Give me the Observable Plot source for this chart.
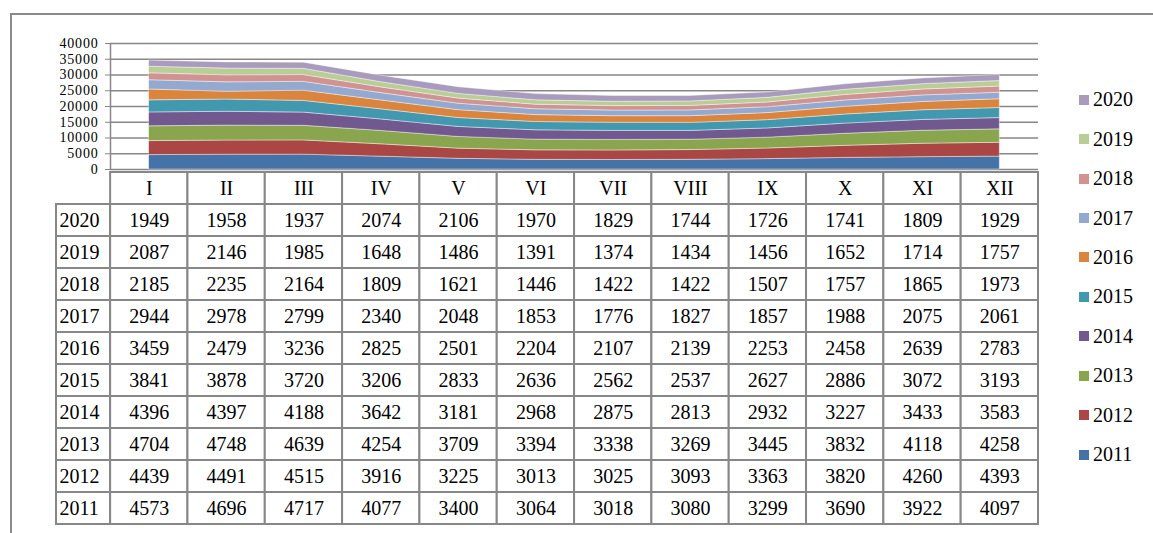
<!DOCTYPE html>
<html>
<head>
<meta charset="utf-8">
<script src="https://cdn.jsdelivr.net/npm/d3@7"></script>
<script src="https://cdn.jsdelivr.net/npm/@observablehq/plot@0.6"></script>
<style>
  html, body { margin: 0; padding: 0; background: #fff; }
  #wrap { position: relative; width: 1153px; height: 533px; overflow: hidden; background: #fff; font-family: "Liberation Serif", "Times New Roman", serif; }
  #frame { position: absolute; left: 10px; top: 13px; width: 1200px; height: 600px; border-top: 2px solid #8a8a8a; border-left: 2px solid #8a8a8a; }
  #area, #table { position: absolute; left: 0; }
  #area { top: 0; }
  #table { top: 167px; }
  #legend { position: absolute; left: 1079px; top: 80px; display: flex; flex-direction: column; }
  .item { height: 39.45px; display: flex; align-items: center; font-size: 20px; color: #000; }
  .sw { width: 10px; height: 10px; margin-right: 4px; }
  #area svg g[aria-label="y-axis tick label"] text { letter-spacing: 0.8px; }
</style>
</head>
<body>
<div id="wrap">
  <div id="frame"></div>
  <div id="area"></div>
  <div id="table"></div>
  <div id="legend"></div>
</div>
<script>
const months = ["I","II","III","IV","V","VI","VII","VIII","IX","X","XI","XII"];
const years = ["2011","2012","2013","2014","2015","2016","2017","2018","2019","2020"];
const colors = ["#4572A7","#AA4643","#89A54E","#71588F","#4198AF","#DB843D","#93A9CF","#D19392","#B9CD96","#A99BBD"];
const yTicks = [0,5000,10000,15000,20000,25000,30000,35000,40000];

const v2011 = [4573,4696,4717,4077,3400,3064,3018,3080,3299,3690,3922,4097];
const v2012 = [4439,4491,4515,3916,3225,3013,3025,3093,3363,3820,4260,4393];
const v2013 = [4704,4748,4639,4254,3709,3394,3338,3269,3445,3832,4118,4258];
const v2014 = [4396,4397,4188,3642,3181,2968,2875,2813,2932,3227,3433,3583];
const v2015 = [3841,3878,3720,3206,2833,2636,2562,2537,2627,2886,3072,3193];
const v2016 = [3459,2479,3236,2825,2501,2204,2107,2139,2253,2458,2639,2783];
const v2017 = [2944,2978,2799,2340,2048,1853,1776,1827,1857,1988,2075,2061];
const v2018 = [2185,2235,2164,1809,1621,1446,1422,1422,1507,1757,1865,1973];
const v2019 = [2087,2146,1985,1648,1486,1391,1374,1434,1456,1652,1714,1757];
const v2020 = [1949,1958,1937,2074,2106,1970,1829,1744,1726,1741,1809,1929];
const series = [v2011,v2012,v2013,v2014,v2015,v2016,v2017,v2018,v2019,v2020];

const FONT = '"Liberation Serif", "Times New Roman", serif';
const GRID = "#878787";

// ---- stacked area chart ----
const areaData = years.flatMap((yr, k) => series[k].map((v, i) => ({year: yr, x: i + 0.5, value: v})));

const area = Plot.plot({
  width: 1153,
  height: 185,
  marginTop: 43,
  marginBottom: 16,
  marginLeft: 110,
  marginRight: 115,
  style: {fontFamily: FONT, fontSize: "14px", color: "#000", background: "transparent"},
  x: {domain: [0, months.length], axis: null},
  y: {domain: [0, 40000], ticks: yTicks, tickFormat: d3.format("d"), tickSize: 5, tickPadding: 7, label: null},
  color: {domain: years, range: colors},
  marks: [
    Plot.gridY(yTicks, {stroke: GRID, strokeOpacity: 1, strokeWidth: 1.5}),
    Plot.areaY(areaData, {x: "x", y: "value", fill: "year", stroke: "#ffffff", strokeWidth: 0.6, strokeOpacity: 0.7}),
    Plot.ruleX([0], {stroke: GRID, strokeWidth: 1.5}),
    Plot.axisY({ticks: yTicks, tickFormat: d3.format("d"), tickSize: 5, tickPadding: 7, stroke: GRID, label: null})
  ]
});
document.getElementById("area").appendChild(area);

// ---- data table ----
const rowsOrder = ["head", ...years.slice().reverse()];
const cells = [];
months.forEach((m, i) => cells.push({row: "head", x1: i, x2: i + 1, label: m}));
years.slice().reverse().forEach(yr => {
  const k = years.indexOf(yr);
  cells.push({row: yr, x1: -0.7, x2: 0, label: yr, yearCell: true});
  series[k].forEach((v, i) => cells.push({row: yr, x1: i, x2: i + 1, label: String(v)}));
});

const table = Plot.plot({
  width: 1153,
  height: 366,
  marginTop: 2,
  marginBottom: 6,
  marginLeft: 56,
  marginRight: 115,
  style: {fontFamily: FONT, fontSize: "20px", color: "#000", background: "transparent"},
  x: {domain: [-0.7, months.length], axis: null},
  y: {domain: rowsOrder, type: "band", padding: 0, axis: null},
  marks: [
    Plot.barX(cells, {x1: "x1", x2: "x2", y: "row", fill: "#fff", stroke: GRID, strokeWidth: 2}),
    Plot.text(cells.filter(d => !d.yearCell), {x: d => (d.x1 + d.x2) / 2, y: "row", text: "label", fontSize: 20, fill: "#000"}),
    Plot.text(cells.filter(d => d.yearCell), {x: "x1", y: "row", text: "label", fontSize: 20, textAnchor: "start", dx: 3, fill: "#000"})
  ]
});
document.getElementById("table").appendChild(table);

// ---- legend ----
const legend = document.getElementById("legend");
years.slice().reverse().forEach(yr => {
  const item = document.createElement("div");
  item.className = "item";
  const sw = document.createElement("span");
  sw.className = "sw";
  sw.style.background = colors[years.indexOf(yr)];
  const t = document.createElement("span");
  t.textContent = yr;
  item.appendChild(sw);
  item.appendChild(t);
  legend.appendChild(item);
});
</script>
</body>
</html>
